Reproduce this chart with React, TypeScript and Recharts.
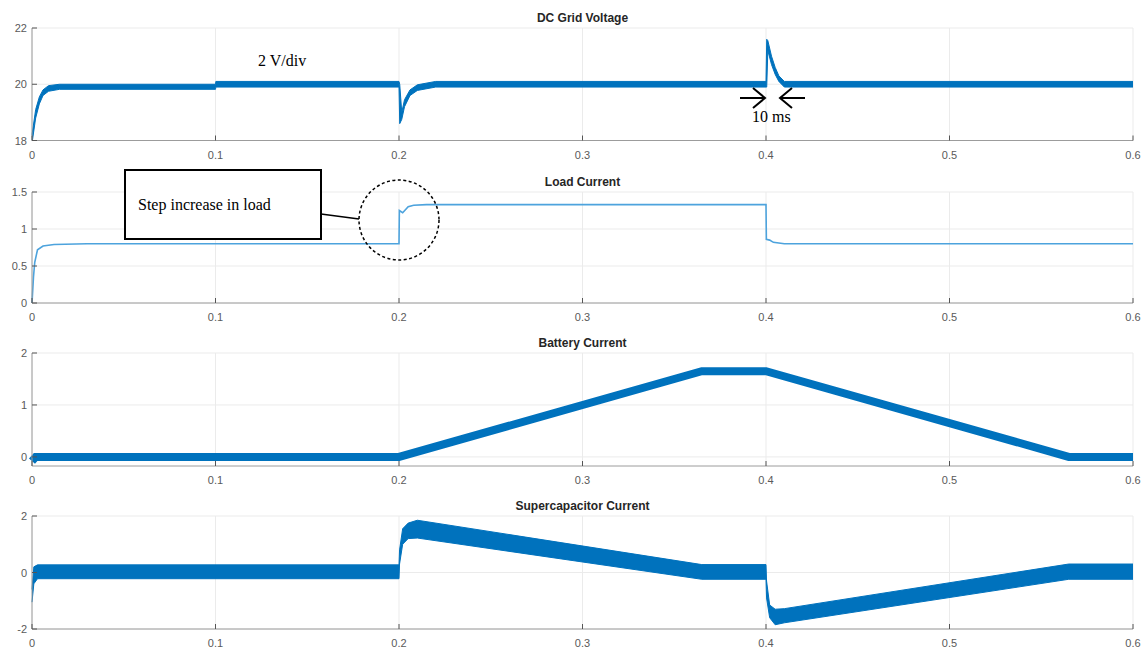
import React from 'react'
import { ComposedChart, Line, Area, XAxis, YAxis, CartesianGrid } from 'recharts'

// time axis shared by all four plots (seconds)
const timeTicks = [0, 0.1, 0.2, 0.3, 0.4, 0.5, 0.6]

// DC grid voltage (V) - the switching ripple is drawn as a lower/upper envelope
const voltageT = [0, 0.002, 0.004, 0.006, 0.009, 0.015, 0.1, 0.1002, 0.2, 0.2004, 0.2015, 0.203, 0.206, 0.21, 0.22, 0.4, 0.4004, 0.401, 0.403, 0.405, 0.407, 0.41, 0.6]
const voltageLo = [17.9, 18.8, 19.3, 19.6, 19.75, 19.82, 19.82, 19.9, 19.9, 18.6, 18.75, 19.2, 19.6, 19.78, 19.9, 19.9, 19.9, 21.2, 20.7, 20.35, 20.1, 19.9, 19.9]
const voltageHi = [18.2, 19.1, 19.55, 19.8, 19.95, 20.0, 20.0, 20.1, 20.1, 20.0, 19.0, 19.45, 19.8, 19.98, 20.1, 20.1, 21.6, 21.55, 21.0, 20.6, 20.3, 20.1, 20.1]
const voltageTicks = [18, 20, 22]

// load current (A)
const loadT = [0, 0.0008, 0.0015, 0.003, 0.006, 0.012, 0.03, 0.2, 0.2002, 0.202, 0.205, 0.208, 0.215, 0.4, 0.4002, 0.402, 0.404, 0.41, 0.6]
const loadV = [0, 0.35, 0.55, 0.72, 0.77, 0.79, 0.8, 0.8, 1.25, 1.22, 1.3, 1.32, 1.33, 1.33, 0.86, 0.85, 0.82, 0.8, 0.8]
const loadTicks = [0, 0.5, 1, 1.5]

// battery current (A)
const batteryT = [0, 0.002, 0.2, 0.365, 0.4, 0.565, 0.6]
const batteryV = [-0.08, 0, 0, 1.65, 1.65, 0, 0]
const batteryTicks = [0, 1, 2]

// supercapacitor current (A) - envelope of the ripple band
const scT = [0, 0.001, 0.003, 0.2, 0.2003, 0.202, 0.205, 0.21, 0.365, 0.4, 0.4003, 0.402, 0.405, 0.41, 0.565, 0.6]
const scLo = [-1.05, -0.4, -0.22, -0.22, 0.3, 1.0, 1.2, 1.22, -0.24, -0.24, -0.9, -1.6, -1.85, -1.78, -0.24, -0.24]
const scHi = [-0.6, 0.2, 0.27, 0.27, 0.8, 1.55, 1.75, 1.85, 0.28, 0.28, -0.3, -1.15, -1.3, -1.28, 0.3, 0.3]
const scTicks = [-2, 0, 2]

const zipLine = (t: number[], v: number[]) => t.map((x, i) => ({ t: x, v: v[i] }))
const zipBand = (t: number[], lo: number[], hi: number[]) => t.map((x, i) => ({ t: x, band: [lo[i], hi[i]] }))

const BLUE = '#0072BD'
const BOX = '#9c9c9c'
const TICK = '#555'
const LABEL = '#5a5a5a'
const FONT = '"Liberation Sans", Arial, Helvetica, sans-serif'

const BottomTick = (props: any) => {
  const { x, y, payload } = props
  return (
    <g>
      <line x1={x} x2={x} y1={y} y2={y - 5} stroke={TICK} />
      <text x={x} y={y + 18} textAnchor="middle" fontSize={11} fill={LABEL} fontFamily={FONT}>
        {payload.value}
      </text>
    </g>
  )
}

const TopTick = (props: any) => {
  const { x, y } = props
  return <line x1={x} x2={x} y1={y} y2={y + 5} stroke={TICK} />
}

const LeftTick = (props: any) => {
  const { x, y, payload } = props
  return (
    <g>
      <line x1={x} x2={x + 5} y1={y} y2={y} stroke={TICK} />
      <text x={x - 5} y={y + 4} textAnchor="end" fontSize={11} fill={LABEL} fontFamily={FONT}>
        {payload.value}
      </text>
    </g>
  )
}

const RightTick = (props: any) => {
  const { x, y } = props
  return <line x1={x} x2={x - 5} y1={y} y2={y} stroke={TICK} />
}

interface PanelProps {
  data: any[]
  top: number
  bottom: number
  domain: [number, number]
  ticks: number[]
  kind: 'band' | 'line'
  color?: string
  width?: number
}

const PLOT_LEFT = 32
const PLOT_RIGHT = 1133

const Panel: React.FC<PanelProps> = ({ data, top, bottom, domain, ticks, kind, color = BLUE, width = 1 }) => {
  const h = bottom - top + 5 + 22
  return (
    <div style={{ position: 'absolute', left: 0, top: top - 5 }}>
      <ComposedChart width={1146} height={h} data={data} margin={{ top: 5, right: 1146 - PLOT_RIGHT, bottom: 0, left: 0 }}>
        <CartesianGrid xAxisId="b" yAxisId="l" stroke="#ebebeb" verticalValues={timeTicks} horizontalValues={ticks} />
        <XAxis xAxisId="b" dataKey="t" type="number" domain={[0, 0.6]} ticks={timeTicks} height={22}
          axisLine={{ stroke: BOX }} tickLine={false} tickSize={0} tickMargin={0} tick={<BottomTick />} interval={0} />
        <XAxis xAxisId="t" orientation="top" dataKey="t" type="number" domain={[0, 0.6]} ticks={timeTicks} height={0}
          axisLine={{ stroke: BOX }} tickLine={false} tickSize={0} tickMargin={0} tick={<TopTick />} interval={0} />
        <YAxis yAxisId="l" type="number" domain={domain} ticks={ticks} width={PLOT_LEFT} allowDataOverflow
          axisLine={{ stroke: BOX }} tickLine={false} tickSize={0} tickMargin={0} tick={<LeftTick />} interval={0} />
        <YAxis yAxisId="r" orientation="right" type="number" domain={domain} ticks={ticks} width={0} allowDataOverflow
          axisLine={{ stroke: BOX }} tickLine={false} tickSize={0} tickMargin={0} tick={<RightTick />} interval={0} />
        {kind === 'band' ? (
          <Area xAxisId="b" yAxisId="l" type="linear" dataKey="band" stroke={color} strokeWidth={1}
            fill={color} fillOpacity={1} dot={false} activeDot={false} isAnimationActive={false} />
        ) : (
          <Line xAxisId="b" yAxisId="l" type="linear" dataKey="v" stroke={color} strokeWidth={width}
            dot={false} activeDot={false} isAnimationActive={false} strokeLinejoin="miter" />
        )}
      </ComposedChart>
    </div>
  )
}

const titleStyle = { fontSize: 12, fontWeight: 700, fill: '#262626', fontFamily: FONT }
const serif = '"Liberation Serif", "Times New Roman", serif'

export default function App() {
  const cx = (PLOT_LEFT + PLOT_RIGHT) / 2
  return (
    <div style={{ position: 'absolute', left: 0, top: 0, width: 1146, height: 651, background: '#fff', overflow: 'hidden' }}>
      <Panel data={zipBand(voltageT, voltageLo, voltageHi)} top={27.5} bottom={140} domain={[18, 22]} ticks={voltageTicks} kind="band" />
      <Panel data={zipLine(loadT, loadV)} top={192} bottom={303} domain={[0, 1.5]} ticks={loadTicks} kind="line" color="#4DA3DD" width={1.6} />
      <Panel data={zipLine(batteryT, batteryV)} top={353} bottom={466} domain={[-0.175, 2]} ticks={batteryTicks} kind="line" width={8} />
      <Panel data={zipBand(scT, scLo, scHi)} top={516} bottom={629} domain={[-2, 2]} ticks={scTicks} kind="band" />

      <svg width={1146} height={651} style={{ position: 'absolute', left: 0, top: 0, pointerEvents: 'none' }}>
        <text x={cx} y={21.5} textAnchor="middle" style={titleStyle}>DC Grid Voltage</text>
        <text x={cx} y={186} textAnchor="middle" style={titleStyle}>Load Current</text>
        <text x={cx} y={347} textAnchor="middle" style={titleStyle}>Battery Current</text>
        <text x={cx} y={510} textAnchor="middle" style={titleStyle}>Supercapacitor Current</text>

        <text x={258} y={66} fontSize={16} fontFamily={serif} fill="#000">2 V/div</text>

        <g stroke="#000" strokeWidth={2} fill="none">
          <line x1={740} y1={98} x2={765} y2={98} />
          <polyline points="753,88 765,98 753,108" />
          <line x1={805} y1={98} x2={780} y2={98} />
          <polyline points="792,88 780,98 792,108" />
        </g>
        <text x={752} y={122} fontSize={16} fontFamily={serif} fill="#000">10 ms</text>

        <rect x={125} y={170} width={196} height={69} fill="#fff" stroke="#000" strokeWidth={2} />
        <text x={138} y={210} fontSize={16} fontFamily={serif} fill="#000">Step increase in load</text>
        <line x1={321} y1={214} x2={359} y2={219} stroke="#000" strokeWidth={1.5} />
        <circle cx={399} cy={220} r={40} fill="none" stroke="#000" strokeWidth={1.5} strokeDasharray="3 2.5" />
      </svg>
    </div>
  )
}
